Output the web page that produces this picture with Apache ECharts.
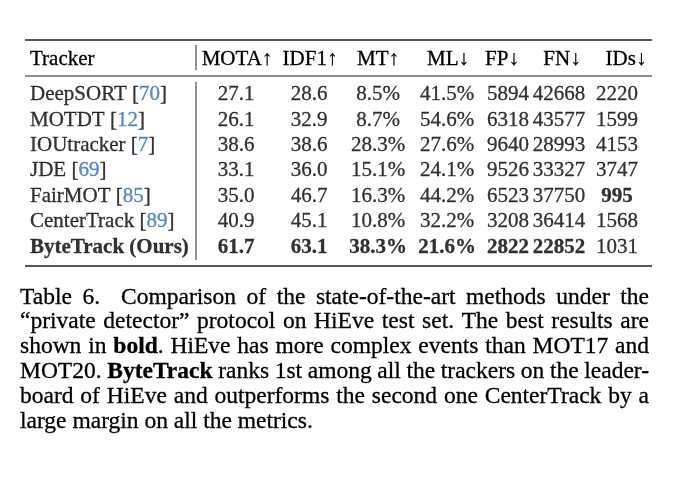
<!DOCTYPE html>
<html>
<head>
<meta charset="utf-8">
<script src="https://cdn.jsdelivr.net/npm/echarts/dist/echarts.min.js"></script>
<style>
  html, body { margin: 0; padding: 0; background: #fff; }
  #chart { width: 684px; height: 490px; }
</style>
</head>
<body>
<div id="chart"></div>
<script>
// table data
var trackers = ['DeepSORT', 'MOTDT', 'IOUtracker', 'JDE', 'FairMOT', 'CenterTrack', 'ByteTrack (Ours)'];
var refs = ['70', '12', '7', '69', '85', '89', ''];
var metrics = ['MOTA↑', 'IDF1↑', 'MT↑', 'ML↓', 'FP↓', 'FN↓', 'IDs↓'];
var mota = [27.1, 26.1, 38.6, 33.1, 35.0, 40.9, 61.7];
var idf1 = [28.6, 32.9, 38.6, 36.0, 46.7, 45.1, 63.1];
var mt = [8.5, 8.7, 28.3, 15.1, 16.3, 10.8, 38.3];
var ml = [41.5, 54.6, 27.6, 24.1, 44.2, 32.2, 21.6];
var fp = [5894, 6318, 9640, 9526, 6523, 3208, 2822];
var fn = [42668, 43577, 28993, 33327, 37750, 36414, 22852];
var ids = [2220, 1599, 4153, 3747, 995, 1568, 1031];
var columns = [mota, idf1, mt, ml, fp, fn, ids];

// caption, **...** = bold
var caption = [
    'Table 6.  Comparison of the state-of-the-art methods under the',
    '\u201Cprivate detector\u201D protocol on HiEve test set. The best results are',
    'shown in **bold**. HiEve has more complex events than MOT17 and',
    'MOT20. **ByteTrack** ranks 1st among all the trackers on the leader-',
    'board of HiEve and outperforms the second one CenterTrack by a',
    'large margin on all the metrics.'
];

// layout
var FONT = '"Liberation Serif", "Times New Roman", serif';
var FS = 21;
var CFS = 23.5;
var INK = 0.3; // slight stroke so the serif text reads as dark as print
var nameX = 30;
var colX = [236, 309, 378, 447, 508, 559, 617];
var headX = [237, 310, 378, 448, 502, 562, 626];
var headY = 59;
var tableLeft = 25, tableRight = 652;
var ruleTop = 40, ruleHead = 76, ruleBottom = 266, sepX = 196;
var bodyTop = 82, rowH = 25.4;
var capLeft = 20, capRight = 649, capTop = 297.5, capLH = 24.8;
var refColor = '#2f6db5';

function fmt(j, v) {
    if (j < 2) return v.toFixed(1);
    if (j < 4) return v.toFixed(1) + '%';
    return String(v);
}

var chart = echarts.init(document.getElementById('chart'));

var series = columns.map(function (vals, j) {
    var best = metrics[j].indexOf('↑') >= 0 ? Math.max.apply(null, vals) : Math.min.apply(null, vals);
    return {
        type: 'scatter',
        symbolSize: 1,
        itemStyle: { color: 'rgba(0,0,0,0)' },
        silent: true,
        data: vals.map(function (v, i) {
            return {
                value: [colX[j], trackers[i], v],
                label: { fontWeight: v === best ? 'bold' : 'normal' }
            };
        }),
        label: {
            show: true,
            position: 'inside',
            color: '#000',
            fontFamily: FONT,
            fontSize: FS,
            textBorderColor: '#000',
            textBorderWidth: INK,
            formatter: function (p) { return fmt(j, p.value[2]); }
        }
    };
});

// tracker names
series.push({
    type: 'scatter',
    symbolSize: 1,
    itemStyle: { color: 'rgba(0,0,0,0)' },
    silent: true,
    data: trackers.map(function (t) { return [nameX, t]; }),
    label: {
        show: true,
        position: 'inside',
        align: 'left',
        formatter: function (p) {
            var i = p.dataIndex;
            if (!refs[i]) return '{b|' + trackers[i] + '}';
            return '{n|' + trackers[i] + ' [}{r|' + refs[i] + '}{n|]}';
        },
        rich: {
            n: { fontFamily: FONT, fontSize: FS, color: '#000', textBorderColor: '#000', textBorderWidth: INK },
            b: { fontFamily: FONT, fontSize: FS, color: '#000', fontWeight: 'bold', textBorderColor: '#000', textBorderWidth: INK },
            r: { fontFamily: FONT, fontSize: FS, color: refColor, textBorderColor: refColor, textBorderWidth: INK }
        }
    }
});

var graphics = [];
function text(x, y, s, bold, align, size) {
    graphics.push({
        type: 'text', x: x, y: y, silent: true,
        style: {
            text: s, fill: '#000', stroke: '#000', lineWidth: INK,
            font: (bold ? 'bold ' : '') + (size || FS) + 'px ' + FONT,
            align: align || 'left', verticalAlign: 'middle',
            textAlign: align || 'left', textVerticalAlign: 'middle'
        }
    });
}
function line(x1, y1, x2, y2, w) {
    graphics.push({
        type: 'line', silent: true,
        shape: { x1: x1, y1: y1, x2: x2, y2: y2 },
        style: { stroke: '#222', lineWidth: w }
    });
}

// header + rules
text(nameX, headY, 'Tracker', false, 'left');
metrics.forEach(function (m, j) { text(headX[j], headY, m, false, 'center'); });
line(tableLeft, ruleTop, tableRight, ruleTop, 1.6);
line(tableLeft, ruleHead, tableRight, ruleHead, 1.1);
line(tableLeft, ruleBottom, tableRight, ruleBottom, 1.6);
line(sepX, ruleTop + 5, sepX, ruleHead - 6, 1);
line(sepX, ruleHead + 6, sepX, ruleBottom - 6, 1);

// caption, justified word by word
var ctx = document.createElement('canvas').getContext('2d');
function measure(s, bold) {
    ctx.font = (bold ? 'bold ' : '') + CFS + 'px ' + FONT;
    return ctx.measureText(s).width;
}
var spaceW = measure(' ', false);
caption.forEach(function (ln, li) {
    var raw = ln.split(' ');
    var words = [];
    var gaps = [];
    var pending = 0;
    raw.forEach(function (w) {
        if (w === '') { pending++; return; }
        if (words.length) gaps.push(1 + pending);
        pending = 0;
        var segs = [];
        w.split(/(\*\*[^*]+\*\*)/).forEach(function (s) {
            if (!s) return;
            var b = s.indexOf('**') === 0;
            var t = b ? s.slice(2, -2) : s;
            segs.push({ t: t, b: b, w: measure(t, b) });
        });
        words.push(segs);
    });
    var wordsW = 0;
    words.forEach(function (segs) { segs.forEach(function (s) { wordsW += s.w; }); });
    var gapUnits = gaps.reduce(function (a, g) { return a + g; }, 0);
    var unit = spaceW;
    if (li < caption.length - 1 && gapUnits > 0) unit = (capRight - capLeft - wordsW) / gapUnits;
    var x = capLeft;
    var y = capTop + li * capLH;
    words.forEach(function (segs, wi) {
        segs.forEach(function (s) {
            text(x, y, s.t, s.b, 'left', CFS);
            x += s.w;
        });
        if (wi < gaps.length) x += gaps[wi] * unit;
    });
});

chart.setOption({
    animation: false,
    grid: { left: 0, right: 0, top: bodyTop, height: rowH * trackers.length },
    xAxis: { type: 'value', min: 0, max: 684, show: false },
    yAxis: { type: 'category', data: trackers, inverse: true, show: false },
    series: series,
    graphic: graphics
});
</script>
</body>
</html>
